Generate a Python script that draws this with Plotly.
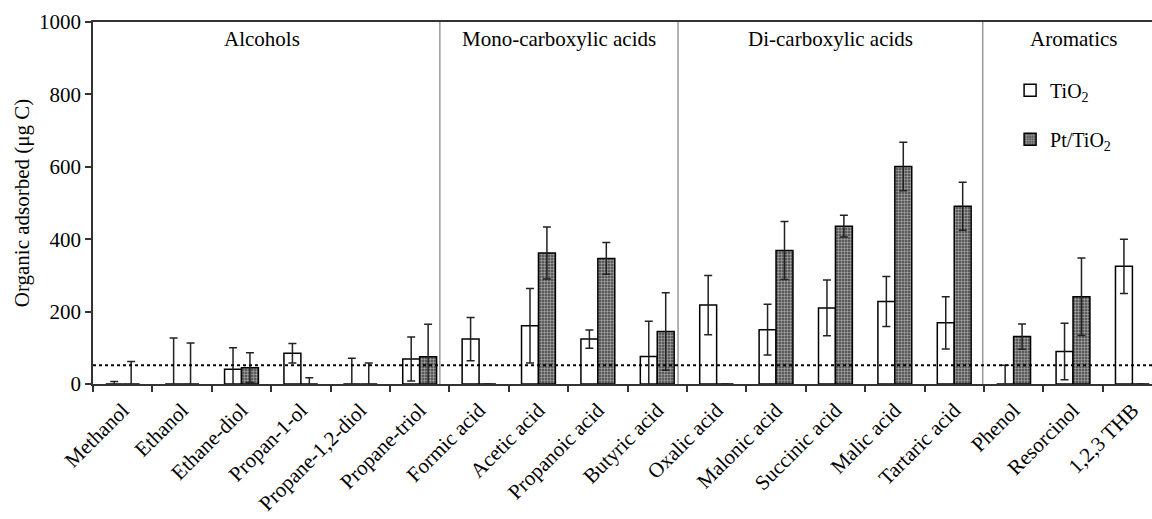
import plotly.graph_objects as go

categories = ["Methanol", "Ethanol", "Ethane-diol", "Propan-1-ol", "Propane-1,2-diol",
              "Propane-triol", "Formic acid", "Acetic acid", "Propanoic acid", "Butyric acid",
              "Oxalic acid", "Malonic acid", "Succinic acid", "Malic acid", "Tartaric acid",
              "Phenol", "Resorcinol", "1,2,3 THB"]

tio2_vals = [0, 0, 41, 85, 0, 69, 124, 161, 124, 76, 218, 150, 210, 228, 169, 0, 90, 325]
tio2_err = [7, 127, 59, 27, 71, 61, 60, 103, 25, 97, 82, 70, 77, 69, 72, 52, 78, 75]
pt_vals = [0, 0, 45, 0, 0, 75, 0, 362, 347, 145, 0, 369, 436, 601, 491, 131, 241, 0]
pt_err = [62, 113, 41, 17, 58, 90, 0, 72, 44, 107, 0, 80, 30, 67, 66, 35, 107, 0]

group_names = ["Alcohols", "Mono-carboxylic acids", "Di-carboxylic acids", "Aromatics"]
group_label_x = [2.35, 7.35, 11.92, 16.0]
separator_x = [5.34, 9.35, 14.48]
detection_limit = 52

FONT = "Liberation Serif"

fig = go.Figure()
fig.add_trace(go.Bar(
    x=categories, y=tio2_vals, name="TiO<sub>2</sub>", legendgroup="a",
    marker=dict(color="white", line=dict(color="black", width=1.5)),
    error_y=dict(type="data", array=tio2_err, symmetric=True, color="#222", thickness=1.5, width=4),
))
fig.add_trace(go.Bar(
    x=categories, y=pt_vals, name="Pt/TiO<sub>2</sub>", legendgroup="b",
    marker=dict(color="#444", line=dict(color="black", width=1.5),
                pattern=dict(shape=".", size=3, solidity=0.5, fgcolor="white", bgcolor="#444")),
    error_y=dict(type="data", array=pt_err, symmetric=True, color="#222", thickness=1.5, width=4),
))

for sx in separator_x:
    fig.add_shape(type="line", xref="x", yref="y", x0=sx, x1=sx, y0=0, y1=1000,
                  line=dict(color="#999", width=1.5), layer="below")

fig.add_shape(type="line", xref="paper", yref="y", x0=0, x1=1, y0=detection_limit, y1=detection_limit,
              line=dict(color="black", width=2, dash="dot"))

for name, gx in zip(group_names, group_label_x):
    fig.add_annotation(x=gx, y=1, xref="x", yref="paper", yanchor="top", yshift=-3,
                       text=name, showarrow=False, font=dict(family=FONT, size=21, color="black"))

fig.update_layout(
    width=1152, height=519,
    margin=dict(l=93, r=0, t=22, b=135),
    plot_bgcolor="white", paper_bgcolor="white",
    barmode="group", bargap=0.43, bargroupgap=0,
    font=dict(family=FONT, size=21, color="black"),
    showlegend=True,
    legend=dict(x=0.866, y=0.865, xanchor="left", yanchor="top", tracegroupgap=20,
                traceorder="grouped", font=dict(family=FONT, size=20), bgcolor="rgba(0,0,0,0)",
                itemwidth=30),
)
fig.update_xaxes(
    range=[-0.5, 17.33], showline=True, linecolor="#333", linewidth=1.5, mirror=True,
    ticks="outside", ticklen=6, tickwidth=1.5, tickcolor="#333", tickson="boundaries",
    tickangle=-45, tickfont=dict(family=FONT, size=21), showgrid=False,
    ticklabelstandoff=4, automargin=False,
)
fig.update_yaxes(
    range=[0, 1000], dtick=200, showline=True, linecolor="#333", linewidth=1.5,
    ticks="outside", ticklen=6, tickwidth=1.5, tickcolor="#333", showgrid=False, zeroline=False,
    tickfont=dict(family=FONT, size=21), automargin=False,
    title=dict(text="Organic adsorbed (μg C)", font=dict(family=FONT, size=21), standoff=4),
)

fig.write_html("out.html")
